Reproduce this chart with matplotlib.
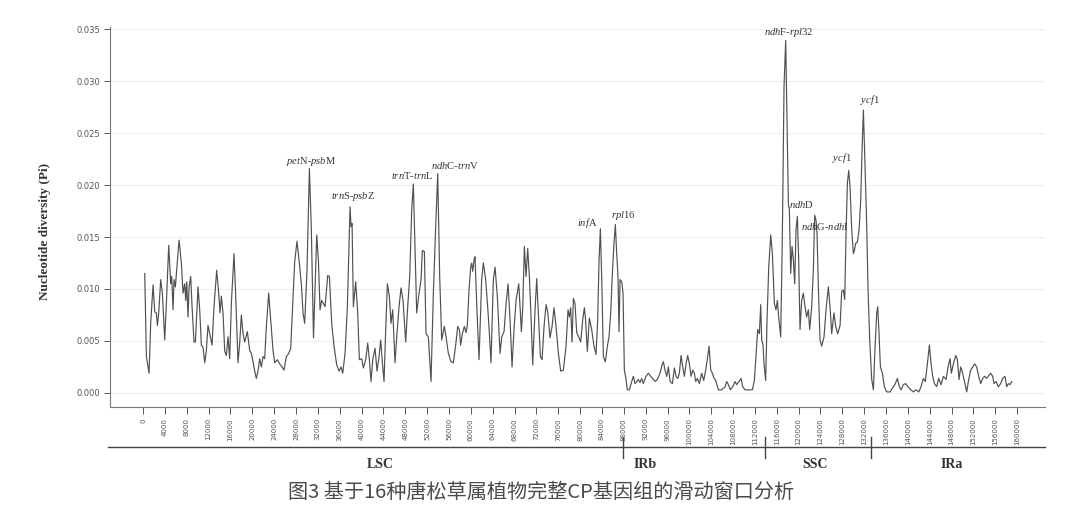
import matplotlib
matplotlib.use("Agg")
import matplotlib.pyplot as plt
import matplotlib.transforms as mtransforms

# ── 1. FONTS ──────────────────────────────────────────────────────────────────
plt.rcParams["mathtext.fontset"] = "custom"
plt.rcParams["mathtext.rm"] = "Liberation Serif"
plt.rcParams["mathtext.it"] = "Liberation Serif:italic"

# ── 2. DATA (sliding window Pi) ──────────────────────────────────────────────
lsc_pos = [305, 610, 1100, 1400, 1830, 2135, 2440, 2620, 2870, 3230, 3540, 3965,
           4270, 4700, 5060, 5245, 5490, 5670, 5915, 6590, 7015, 7320, 7625, 7810,
           7990, 8235, 8420, 8720, 8970, 9330, 9580, 10065, 10370, 10675, 10980,
           11285, 11590, 11895, 12200, 12630, 12990, 13480, 13850, 14090, 14335,
           14640, 14945, 15250, 15555, 15860, 16165, 16650, 16960, 17385, 17690,
           17995, 18300, 18605, 19090, 19520, 19825, 20130, 20435, 20740, 21045,
           21350, 21655, 21960, 22265, 22570, 22995, 23365, 23790, 24095, 24585,
           25010, 25440, 25805, 26230, 26660, 27025, 27330, 27755, 28180, 28610,
           28975, 29280, 29585, 30010, 30450, 30805, 31200,
           31790, 32095, 32400, 32705, 33315, 33800, 34110, 34535, 34960, 35450,
           35880, 36245, 36550, 36975, 37400, 37890, 38075, 38260, 38500, 38925,
           39290, 39600, 40025, 40330, 40760, 41125, 41430, 41735, 42040, 42465,
           42830, 43200, 43500, 43810, 44110, 44420, 44720, 45090, 45390, 45700,
           46125, 46490, 46860, 47225, 47590, 48080, 48445, 48810, 49175, 49480,
           49785, 50090, 50520, 50885, 51130, 51495, 51800, 52225, 52710, 53140,
           53570, 53935, 54300, 54665, 55150, 55460, 55885, 56375, 56800, 57230,
           57595, 57900, 58140, 58450, 58810, 59120, 59360, 59665, 59970, 60155,
           60340, 60580, 60765, 61070, 61500, 61985, 62290, 62720, 63080, 63390,
           63690, 64120, 64433,
           64860, 65350, 65655, 66080, 66450, 66810, 67180, 67545, 67910, 68280,
           68765, 69010, 69250, 69500, 69800, 70105, 70410, 70715, 71020, 71325,
           71755, 72060, 72425, 72730, 73035, 73400, 73770, 74070, 74500, 74865,
           75230, 75600, 76025, 76450, 76940, 77425, 77790, 78035, 78280, 78525,
           78770, 79070, 79380, 79745, 80110, 80475, 80780, 80965, 81330, 81695,
           82120, 82550, 82915, 83220, 83465, 83710, 83950, 84260, 84625, 84990,
           85295, 85600, 85905, 86210, 86455, 86700, 86940, 87125, 87310, 87615,
           87860]
lsc_pi = [0.0115, 0.0035, 0.0019, 0.0067, 0.0104, 0.0078, 0.0077, 0.0065, 0.0077,
          0.0109, 0.0096, 0.0051, 0.0086, 0.0142, 0.0105, 0.0112, 0.0080, 0.0109,
          0.0102, 0.0147, 0.0125, 0.0096, 0.0105, 0.0089, 0.0107, 0.0073, 0.0102,
          0.0112, 0.0083, 0.0049, 0.0049, 0.0102, 0.0080, 0.0046, 0.0044, 0.0029,
          0.0041, 0.0065, 0.0057, 0.0046, 0.0083, 0.0118, 0.0096, 0.0077, 0.0093,
          0.0077, 0.0040, 0.0036, 0.0054, 0.0033, 0.0086, 0.0134, 0.0093, 0.0029,
          0.0048, 0.0075, 0.0057, 0.0049, 0.0059, 0.0041, 0.0038, 0.0030, 0.0021,
          0.0014, 0.0021, 0.0033, 0.0025, 0.0035, 0.0033, 0.0064, 0.0096, 0.0070,
          0.0041, 0.0029, 0.0032, 0.0028, 0.0025, 0.0022, 0.0035, 0.0038, 0.0043,
          0.0077, 0.0126, 0.0146, 0.0125, 0.0105, 0.0077, 0.0067, 0.0118, 0.0216,
          0.0157, 0.0053,
          0.0152, 0.0128, 0.0080, 0.0089, 0.0083, 0.0113, 0.0112, 0.0067, 0.0045,
          0.0027, 0.0021, 0.0025, 0.0019, 0.0038, 0.0083, 0.0179, 0.0160, 0.0163,
          0.0083, 0.0107, 0.0077, 0.0032, 0.0033, 0.0024, 0.0032, 0.0048, 0.0032,
          0.0011, 0.0032, 0.0043, 0.0021, 0.0035, 0.0051, 0.0029, 0.0011, 0.0061,
          0.0105, 0.0093, 0.0067, 0.0080, 0.0029, 0.0058, 0.0083, 0.0101, 0.0089,
          0.0049, 0.0083, 0.0112, 0.0176, 0.0201, 0.0141, 0.0077, 0.0096, 0.0109,
          0.0137, 0.0136, 0.0057, 0.0054, 0.0011, 0.0096, 0.0160, 0.0211, 0.0112,
          0.0051, 0.0064, 0.0054, 0.0038, 0.0030, 0.0029, 0.0046, 0.0064, 0.0061,
          0.0046, 0.0057, 0.0064, 0.0058, 0.0065, 0.0099, 0.0121, 0.0125, 0.0117,
          0.0128, 0.0131, 0.0086, 0.0032, 0.0109, 0.0125, 0.0109, 0.0083, 0.0058,
          0.0029, 0.0109, 0.0121,
          0.0092, 0.0038, 0.0054, 0.0059, 0.0086, 0.0105, 0.0070, 0.0025, 0.0062,
          0.0089, 0.0105, 0.0083, 0.0059, 0.0082, 0.0141, 0.0112, 0.0139, 0.0112,
          0.0073, 0.0027, 0.0080, 0.0110, 0.0070, 0.0035, 0.0032, 0.0064, 0.0085,
          0.0078, 0.0053, 0.0064, 0.0082, 0.0064, 0.0038, 0.0021, 0.0022, 0.0045,
          0.0080, 0.0073, 0.0082, 0.0049, 0.0091, 0.0086, 0.0058, 0.0054, 0.0049,
          0.0070, 0.0082, 0.0073, 0.0040, 0.0072, 0.0061, 0.0045, 0.0037, 0.0070,
          0.0127, 0.0158, 0.0112, 0.0035, 0.0030, 0.0045, 0.0054, 0.0077, 0.0115,
          0.0144, 0.0162, 0.0134, 0.0112, 0.0059, 0.0109, 0.0107, 0.0096]

irb_pos = [88100, 88405, 88650, 89020, 89445, 89750, 90055, 90360, 90665, 90970,
           91275, 91580, 92065, 92495, 92920, 93410, 93775, 94140, 94630, 94995,
           95240, 95545, 95857, 96162, 96467, 96890, 97260, 97565, 97870, 98175,
           98480, 98785, 99090, 99395, 99700, 100005, 100310, 100615, 100920,
           101165, 101470, 101835, 102260, 102630, 102995, 103360, 103605, 103910,
           104215, 104520, 104825, 105310, 105920, 106530, 106835, 107140, 107510,
           107935, 108360, 108665, 109095, 109460, 109765, 110190, 110800, 111535,
           111900, 112145, 112510, 112815, 113060, 113240, 113485, 113670]
irb_pi = [0.0022, 0.0013, 0.0003, 0.0003, 0.0011, 0.0016, 0.0009, 0.0011, 0.0013,
          0.0010, 0.0014, 0.0009, 0.0016, 0.0019, 0.0016, 0.0013, 0.0011, 0.0013,
          0.0019, 0.0027, 0.0030, 0.0022, 0.0016, 0.0025, 0.0011, 0.0009, 0.0024,
          0.0016, 0.0014, 0.0019, 0.0036, 0.0025, 0.0016, 0.0028, 0.0036, 0.0028,
          0.0016, 0.0022, 0.0019, 0.0011, 0.0014, 0.0009, 0.0019, 0.0012, 0.0022,
          0.0035, 0.0045, 0.0022, 0.0019, 0.0014, 0.0012, 0.0003, 0.0003, 0.0006,
          0.0011, 0.0008, 0.0003, 0.0006, 0.0011, 0.0008, 0.0011, 0.0014, 0.0006,
          0.0003, 0.0003, 0.0003, 0.0012, 0.0032, 0.0061, 0.0057, 0.0085, 0.0051,
          0.0046, 0.0028]

ssc_pos = [113975, 114220, 114525, 114890, 115195, 115560, 115865, 116110, 116350,
           116720, 117025, 117330, 117635, 117880, 118125, 118310, 118550, 118795,
           119040, 119280, 119525, 119770, 120010, 120255, 120560, 120865, 121170,
           121475, 121780, 122025, 122390, 122695, 122940, 123185, 123370, 123610,
           123915, 124220, 124650, 125015, 125440, 125750, 126050, 126480, 126785,
           127150, 127586, 127890, 128195, 128440, 128685, 128930, 129170, 129415,
           129720, 130026, 130210, 130450, 130760, 131065, 131370, 131610, 131856,
           132100, 132405, 132710, 133015]
ssc_pi = [0.0012, 0.0070, 0.0121, 0.0152, 0.0134, 0.0086, 0.0080, 0.0089, 0.0073,
          0.0054, 0.0153, 0.0295, 0.0339, 0.0263, 0.0182, 0.0176, 0.0115, 0.0141,
          0.0128, 0.0105, 0.0157, 0.0170, 0.0128, 0.0061, 0.0089, 0.0096, 0.0083,
          0.0073, 0.0080, 0.0061, 0.0083, 0.0118, 0.0171, 0.0166, 0.0153, 0.0102,
          0.0051, 0.0045, 0.0054, 0.0080, 0.0102, 0.0083, 0.0057, 0.0077, 0.0064,
          0.0057, 0.0065, 0.0098, 0.0099, 0.0090, 0.0154, 0.0202, 0.0214, 0.0198,
          0.0157, 0.0134, 0.0137, 0.0144, 0.0145, 0.0157, 0.0186, 0.0234, 0.0272,
          0.0227, 0.0173, 0.0099, 0.0051]

ira_pos = [133380, 133686, 133990, 134296, 134480, 134720, 134970, 135330, 135700,
           136130, 136740, 137350, 137710, 138080, 138440, 138750, 139175, 139600,
           140030, 140520, 141010, 141500, 141990, 142410, 142836, 143200, 143570,
           143935, 144240, 144545, 144850, 145275, 145640, 146070, 146496, 146990,
           147350, 147716, 147960, 148330, 148760, 149060, 149365, 149670, 149975,
           150340, 150766, 151130, 151500, 151865, 152230, 152596, 152960, 153330,
           153700, 154060, 154426, 154850, 155160, 155520, 155770, 156130, 156560,
           156990, 157350, 157780, 158086, 158390, 158700, 159000]
ira_pi = [0.0013, 0.0003, 0.0044, 0.0077, 0.0083, 0.0057, 0.0025, 0.0019, 0.0006,
          0.0001, 0.0001, 0.0006, 0.0009, 0.0014, 0.0006, 0.0003, 0.0008, 0.0009,
          0.0006, 0.0003, 0.0001, 0.0003, 0.0001, 0.0006, 0.0014, 0.0011, 0.0028,
          0.0046, 0.0028, 0.0016, 0.0009, 0.0006, 0.0014, 0.0008, 0.0016, 0.0013,
          0.0025, 0.0033, 0.0019, 0.0028, 0.0036, 0.0032, 0.0013, 0.0025, 0.0020,
          0.0011, 0.0001, 0.0013, 0.0022, 0.0025, 0.0028, 0.0025, 0.0016, 0.0009,
          0.0014, 0.0016, 0.0014, 0.0017, 0.0019, 0.0016, 0.0009, 0.0011, 0.0006,
          0.0009, 0.0014, 0.0016, 0.0006, 0.0009, 0.0008, 0.0011]

# hotspot labels: (mathtext label, x, y)
hot_labels = [r"$\mathit{pet}\mathrm{N}$-$\mathit{psb}\mathrm{M}$",
              r"$\mathit{trn}\mathrm{S}$-$\mathit{psb}\mathrm{Z}$",
              r"$\mathit{trn}\mathrm{T}$-$\mathit{trn}\mathrm{L}$",
              r"$\mathit{ndh}\mathrm{C}$-$\mathit{trn}\mathrm{V}$",
              r"$\mathit{inf}\mathrm{A}$",
              r"$\mathit{rpl}\mathrm{16}$",
              r"$\mathit{ndh}\mathrm{F}$-$\mathit{rpl}\mathrm{32}$",
              r"$\mathit{ndh}\mathrm{D}$",
              r"$\mathit{ndh}\mathrm{G}$-$\mathit{ndh}\mathrm{I}$",
              r"$\mathit{ycf}\mathrm{1}$",
              r"$\mathit{ycf}\mathrm{1}$"]
hot_x = [30750, 38440, 49230, 57110, 81270, 87840, 118250, 120450, 124840, 127920, 133080]
hot_y = [0.0223, 0.0189, 0.0209, 0.0219, 0.0163, 0.0171, 0.0347, 0.0181, 0.0160, 0.0226, 0.0282]

regions = ["LSC", "IRb", "SSC", "IRa"]
region_label_x = [43380, 91870, 123000, 148100]
region_bounds = [87800, 113900, 133200]

pos = lsc_pos + irb_pos + ssc_pos + ira_pos
pi = lsc_pi + irb_pi + ssc_pi + ira_pi

# ── 3. PLOT ───────────────────────────────────────────────────────────────────
fig = plt.figure(figsize=(10.8, 5.18), dpi=100)
ax = fig.add_axes([0.1019, 0.2143, 0.8657, 0.7336])

ax.plot(pos, pi, color="#505050", linewidth=0.85)

ax.set_xlim(-6040, 165100)
ax.set_ylim(-0.00135, 0.0352)
ax.set_xticks(range(0, 160001, 4000))
ax.set_xticklabels([str(v) for v in range(0, 160001, 4000)], rotation=90)
ax.set_yticks([0.000, 0.005, 0.010, 0.015, 0.020, 0.025, 0.030, 0.035])
ax.set_yticklabels(["0.000", "0.005", "0.010", "0.015", "0.020", "0.025", "0.030", "0.035"])
ax.tick_params(axis="x", labelsize=5, colors="#555555", length=5, width=0.7, pad=3)
ax.tick_params(axis="y", labelsize=6, colors="#555555", length=4, width=0.7, pad=3)
ax.yaxis.grid(True, color="#eeeeee", linewidth=0.8)
ax.set_axisbelow(True)
for side in ["top", "right"]:
    ax.spines[side].set_visible(False)
for side in ["left", "bottom"]:
    ax.spines[side].set_color("#777777")
    ax.spines[side].set_linewidth(0.8)

for lab, x, y in zip(hot_labels, hot_x, hot_y):
    ax.text(x, y, lab, ha="center", va="center", fontsize=7.6,
            family="Liberation Serif", color="#333333")

fig.text(45 / 1080, 1 - 231 / 518, "Nucleotide diversity (Pi)", rotation=90,
         ha="center", va="center", fontsize=9.5, fontweight="bold",
         family="Liberation Serif", color="#333333")

# region bar below the axis
trans = mtransforms.blended_transform_factory(ax.transData, fig.transFigure)
bar_y = 1 - 447 / 518
ax.plot([-6400, 165100], [bar_y, bar_y], transform=trans, color="#444444",
        linewidth=1.0, clip_on=False)
for b in region_bounds:
    ax.plot([b, b], [1 - 437 / 518, 1 - 458 / 518], transform=trans,
            color="#444444", linewidth=1.0, clip_on=False)
for name, x in zip(regions, region_label_x):
    ax.text(x, 1 - 464 / 518, name, transform=trans, ha="center", va="center",
            fontsize=10, fontweight="bold", family="Liberation Serif", color="#333333")

fig.text(541 / 1080, 1 - 492 / 518, "图3 基于16种唐松草属植物完整CP基因组的滑动窗口分析",
         ha="center", va="center", fontsize=14.5, color="#4a4a4a",
         family=["Noto Sans CJK SC", "DejaVu Sans"])

plt.savefig("out.png", dpi=100)
